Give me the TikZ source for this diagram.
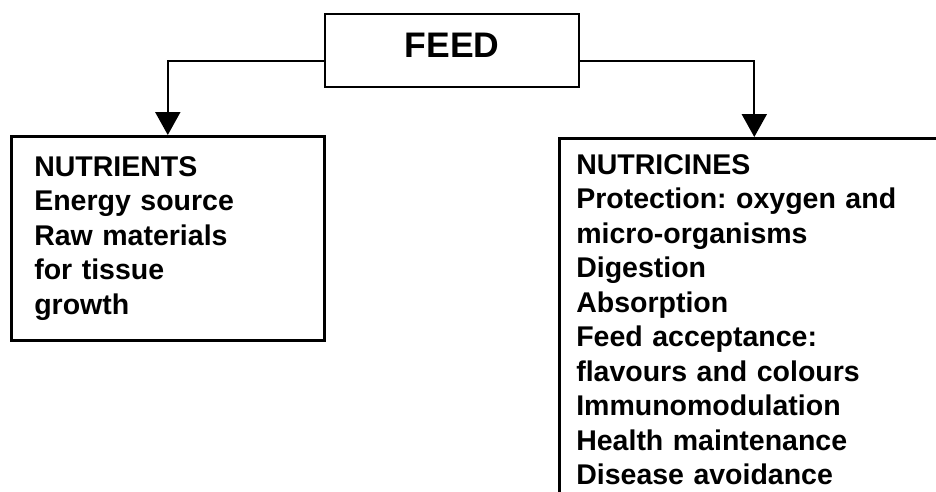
\documentclass[tikz,border=0pt]{standalone}
\usepackage{fontspec}
\setmainfont{Liberation Sans}
\usetikzlibrary{arrows.meta}
\frenchspacing
\begin{document}
\begin{tikzpicture}[x=1pt,y=-1pt,font=\fontsize{28.5}{34.5}\selectfont\bfseries,line join=miter,>={Triangle[width=25pt,length=23pt]},
	box/.style={draw,line width=2.6pt,anchor=north west,align=left}]
			\clip (0,0) rectangle (936,491);
			\node[draw,line width=2.6pt,minimum width=254pt,minimum height=73pt,text depth=10pt,font=\fontsize{35.5}{40}\selectfont\bfseries] (feed) at (452,50.5) {FEED};
			\node[box,inner xsep=23pt,text width=267pt,minimum height=204pt] (nutrients) at (10,135)
			{NUTRIENTS\\Energy source\\Raw materials\\for tissue\\growth};
			\node[box,inner xsep=17pt,inner ysep=16pt,text width=356pt] (nutricines) at (558,137)
			{NUTRICINES\\Protection: oxygen and\\micro-organisms\\Digestion\\Absorption\\Feed acceptance:\\flavours and colours\\Immunomodulation\\Health maintenance\\Disease avoidance};
			\draw[->,line width=2pt] ([yshift=-10pt]feed.west) -| (nutrients.north);
			\draw[->,line width=2pt] ([yshift=-10pt]feed.east) -| (nutricines.north);
	\end{tikzpicture}
\end{document}
